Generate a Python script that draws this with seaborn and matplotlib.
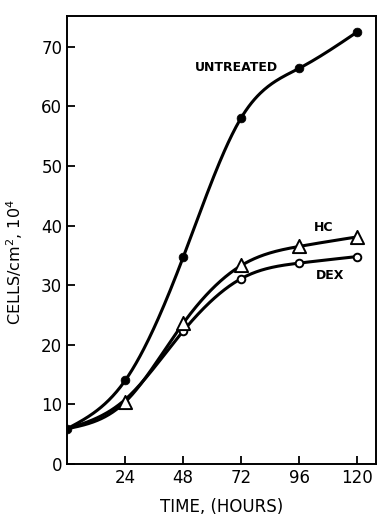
import numpy as np
import pandas as pd
import matplotlib
matplotlib.use("Agg")
import matplotlib.pyplot as plt
import seaborn as sns

# values
hours = [0, 24, 48, 72, 96, 120]
untreated = [5.9, 14.0, 34.7, 58.1, 66.4, 72.5]
hc = [5.9, 10.4, 23.6, 33.3, 36.5, 38.1]
dex = [5.9, 10.8, 22.3, 31.1, 33.7, 34.8]
xticks = [24, 48, 72, 96, 120]
yticks = [0, 10, 20, 30, 40, 50, 60, 70]


def smooth(x, y, n=300):
    # natural cubic spline through the points, for drawing the curve only
    x = np.asarray(x, float)
    y = np.asarray(y, float)
    k = len(x)
    h = np.diff(x)
    A = np.zeros((k, k))
    b = np.zeros(k)
    A[0, 0] = A[-1, -1] = 1
    for i in range(1, k - 1):
        A[i, i - 1] = h[i - 1]
        A[i, i] = 2 * (h[i - 1] + h[i])
        A[i, i + 1] = h[i]
        b[i] = 6 * ((y[i + 1] - y[i]) / h[i] - (y[i] - y[i - 1]) / h[i - 1])
    M = np.linalg.solve(A, b)
    xs = np.linspace(x[0], x[-1], n)
    j = np.clip(np.searchsorted(x, xs) - 1, 0, k - 2)
    a = x[j + 1] - xs
    c = xs - x[j]
    hj = h[j]
    ys = (M[j] * a**3 / (6 * hj) + M[j + 1] * c**3 / (6 * hj)
          + (y[j] / hj - M[j] * hj / 6) * a + (y[j + 1] / hj - M[j + 1] * hj / 6) * c)
    return xs, ys


sns.set_style("ticks")
plt.rcParams["font.family"] = ["DejaVu Sans"]
plt.rcParams["text.color"] = "black"
plt.rcParams["axes.labelcolor"] = "black"

fig = plt.figure(figsize=(3.88, 5.26), dpi=100)
ax = fig.add_axes([0.173, 0.118, 0.796, 0.852])

for vals in [untreated, hc, dex]:
    xs, ys = smooth(hours, vals)
    sns.lineplot(x=xs, y=ys, ax=ax, color="black", linewidth=2.2, zorder=2)

sns.scatterplot(x=hours, y=untreated, ax=ax, marker="o", s=40, color="black",
                edgecolor="black", zorder=3)
sns.scatterplot(x=hours[1:], y=hc[1:], ax=ax, marker="^", s=90, facecolor="white",
                edgecolor="black", linewidth=1.4, zorder=4)
sns.scatterplot(x=hours[2:], y=dex[2:], ax=ax, marker="o", s=30, facecolor="white",
                edgecolor="black", linewidth=1.4, zorder=3)

ax.set_xlim(0, 127.7)
ax.set_ylim(0, 75.2)
ax.set_xticks(xticks)
ax.set_yticks(yticks)
ax.tick_params(direction="in", length=6, width=1.3, labelsize=12,
               colors="black", labelcolor="black")
for sp in ax.spines.values():
    sp.set_linewidth(1.4)
    sp.set_color("black")

ax.text(70, 66.6, "UNTREATED", fontsize=9, fontweight="bold", ha="center", va="center")
ax.text(106, 39.7, "HC", fontsize=9, fontweight="bold", ha="center", va="center")
ax.text(108.7, 31.7, "DEX", fontsize=9, fontweight="bold", ha="center", va="center")

ax.set_xlabel("TIME, (HOURS)", fontsize=12, labelpad=8)
ax.set_ylabel("CELLS/cm$^2$, 10$^4$", fontsize=11.5)
ax.yaxis.set_label_coords(-0.135, 0.45)

plt.savefig("out.png", dpi=100)
